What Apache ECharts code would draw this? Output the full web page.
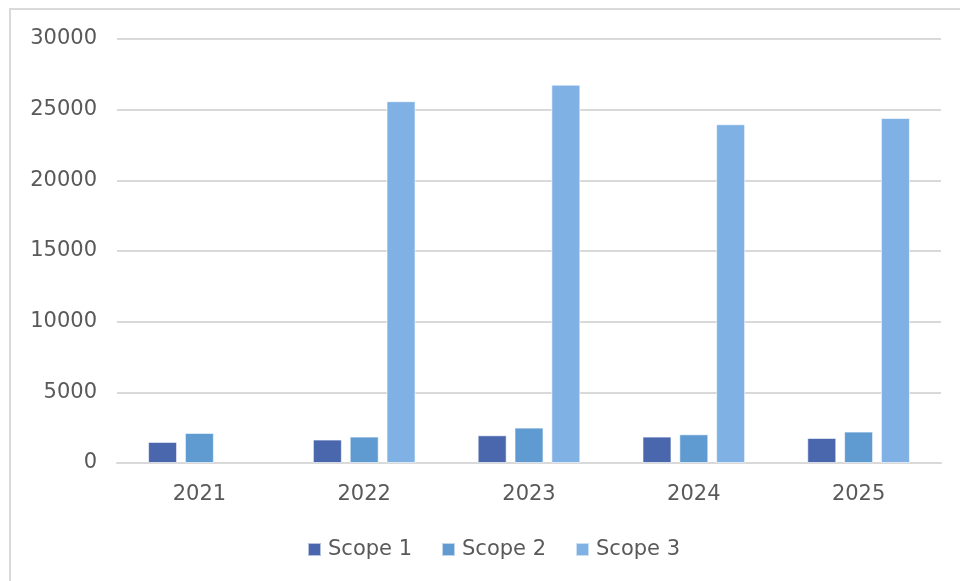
<!DOCTYPE html>
<html>
<head>
<meta charset="utf-8">
<script src="https://cdn.jsdelivr.net/npm/echarts@6/dist/echarts.min.js"></script>
<style>
html,body{margin:0;padding:0;background:#fff;}
#c{width:960px;height:581px;}
</style>
</head>
<body>
<div id="c"></div>
<script>
var years = ['2021', '2022', '2023', '2024', '2025'];
var scope1 = [1490, 1660, 1960, 1870, 1770];
var scope2 = [2125, 1870, 2505, 2030, 2225];
var scope3 = [null, 25600, 26770, 23970, 24410];
var seriesNames = ['Scope 1', 'Scope 2', 'Scope 3'];
var colors = ['#4a66ad', '#5f9bd1', '#7fb1e5'];
var yTicks = [0, 5000, 10000, 15000, 20000, 25000, 30000];

var chart = echarts.init(document.getElementById('c'), null, {renderer: 'canvas'});
var font = 'DejaVu Sans';
function mk(name, data, i) {
  return {
    name: name, type: 'bar', data: data,
    barWidth: 29, barGap: '27%',
    itemStyle: {color: colors[i], borderColor: 'rgba(255,255,255,0.6)', borderWidth: 1}
  };
}
chart.setOption({
  animation: false,
  color: colors,
  graphic: [{
    type: 'rect', shape: {x: 10, y: 9, width: 1000, height: 1000},
    style: {fill: 'none', stroke: '#d9d9d9', lineWidth: 2}, silent: true
  }],
  grid: {left: 117, right: 19, top: 39, bottom: 118},
  legend: {
    data: seriesNames, bottom: 16, left: 302, itemWidth: 13, itemHeight: 13, itemGap: 29,
    icon: 'rect',
    textStyle: {fontFamily: font, fontSize: 21, color: '#595959', padding: [0, 0, 0, 2]}
  },
  xAxis: {
    type: 'category', data: years,
    axisLine: {lineStyle: {color: '#d9d9d9', width: 2}},
    axisTick: {show: false},
    axisLabel: {fontFamily: font, fontSize: 21, color: '#595959', margin: 21}
  },
  yAxis: {
    type: 'value', min: yTicks[0], max: yTicks[yTicks.length - 1], interval: 5000,
    axisLine: {show: false}, axisTick: {show: false},
    splitLine: {lineStyle: {color: '#d9d9d9', width: 2}},
    axisLabel: {fontFamily: font, fontSize: 21, color: '#595959', margin: 20,
      formatter: function (v) { return String(v); }}
  },
  series: [mk(seriesNames[0], scope1, 0), mk(seriesNames[1], scope2, 1), mk(seriesNames[2], scope3, 2)]
});
</script>
</body>
</html>
